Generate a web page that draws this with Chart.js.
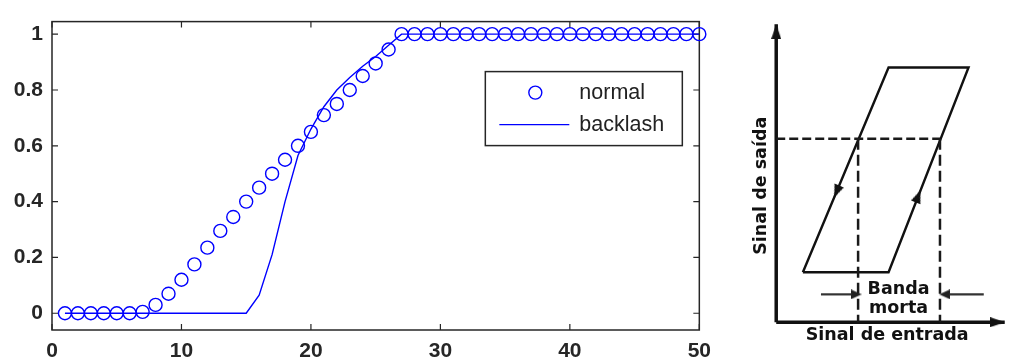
<!DOCTYPE html>
<html>
<head>
<meta charset="utf-8">
<script src="https://cdn.jsdelivr.net/npm/chart.js@4.4.0/dist/chart.umd.min.js"></script>
<style>
  html, body { margin: 0; padding: 0; background: #fff; }
  #wrap { position: relative; width: 1012px; height: 360px; }
  #left { position: absolute; left: 0; top: 0; width: 720px; height: 360px; }
  #right { position: absolute; left: 720px; top: 0; width: 292px; height: 360px; }
</style>
</head>
<body>
<div id="wrap">
  <div id="left"><canvas id="resp"></canvas></div>
  <div id="right"><canvas id="hyst"></canvas></div>
</div>
<script>
// ---- left plot: step response, normal vs backlash ----
const steps = [1, 2, 3, 4, 5, 6, 7, 8, 9, 10, 11, 12, 13, 14, 15, 16, 17, 18, 19, 20,
  21, 22, 23, 24, 25, 26, 27, 28, 29, 30, 31, 32, 33, 34, 35, 36, 37, 38, 39, 40,
  41, 42, 43, 44, 45, 46, 47, 48, 49, 50];
const normal = [0, 0, 0, 0, 0, 0, 0.005, 0.03, 0.07, 0.12, 0.175, 0.235, 0.295, 0.345, 0.4,
  0.45, 0.5, 0.55, 0.6, 0.65, 0.71, 0.75, 0.8, 0.85, 0.895, 0.945,
  1, 1, 1, 1, 1, 1, 1, 1, 1, 1, 1, 1, 1, 1, 1, 1, 1, 1, 1, 1, 1, 1, 1, 1];
const backlash = [0, 0, 0, 0, 0, 0, 0, 0, 0, 0, 0, 0, 0, 0, 0,
  0.065, 0.21, 0.4, 0.565, 0.66, 0.74, 0.8, 0.845, 0.885, 0.92, 0.96,
  1, 1, 1, 1, 1, 1, 1, 1, 1, 1, 1, 1, 1, 1, 1, 1, 1, 1, 1, 1, 1, 1, 1, 1];
const xTicks = [0, 10, 20, 30, 40, 50];
const yTicks = [0, 0.2, 0.4, 0.6, 0.8, 1];

// ---- right sketch: backlash / dead band (in sketch units) ----
const yAxisLine = [[0, 0], [0, 31.0]];
const xAxisLine = [[0, 0], [24.0, 0]];
const loop = [[2.8, 5.2], [11.8, 5.2], [20.2, 26.5], [11.8, 26.5], [2.8, 5.2]];
const levelGuide = [[0, 19.1], [17.2, 19.1]];
const leftGuide = [[8.6, 19.1], [8.6, 0]];
const rightGuide = [[17.2, 19.1], [17.2, 0]];
const bandLeft = [[4.7, 2.9], [7.9, 2.9]];
const bandRight = [[21.8, 2.9], [18.2, 2.9]];

const blue = '#0000ff';
const ink = '#262626';
const pts = arr => arr.map(p => ({ x: p[0], y: p[1] }));

const frame = {
  id: 'frame',
  beforeDatasetsDraw(chart) {
    const { ctx, chartArea: a, scales: { x, y } } = chart;
    ctx.save();
    ctx.strokeStyle = ink;
    ctx.lineWidth = 1.5;
    ctx.strokeRect(a.left, a.top, a.right - a.left, a.bottom - a.top);
    ctx.lineWidth = 1.2;
    ctx.beginPath();
    x.ticks.forEach(t => {
      const px = x.getPixelForValue(t.value);
      ctx.moveTo(px, a.bottom); ctx.lineTo(px, a.bottom - 6);
      ctx.moveTo(px, a.top); ctx.lineTo(px, a.top + 6);
    });
    y.ticks.forEach(t => {
      const py = y.getPixelForValue(t.value);
      ctx.moveTo(a.left, py); ctx.lineTo(a.left + 6, py);
      ctx.moveTo(a.right, py); ctx.lineTo(a.right - 6, py);
    });
    ctx.stroke();
    ctx.restore();
  }
};

const boxLegend = {
  id: 'boxLegend',
  afterDatasetsDraw(chart) {
    const { ctx, chartArea: a } = chart;
    const w = 197, h = 74;
    const left = a.right - 17 - w, top = a.top + 50;
    ctx.save();
    ctx.fillStyle = '#fff';
    ctx.fillRect(left, top, w, h);
    ctx.strokeStyle = ink;
    ctx.lineWidth = 1.5;
    ctx.strokeRect(left, top, w, h);
    const [dsN, dsB] = chart.data.datasets;
    // normal: circle marker
    ctx.strokeStyle = dsN.pointBorderColor;
    ctx.lineWidth = dsN.pointBorderWidth;
    ctx.beginPath();
    ctx.arc(left + 50, top + 21, dsN.pointRadius, 0, Math.PI * 2);
    ctx.stroke();
    // backlash: line
    ctx.strokeStyle = dsB.borderColor;
    ctx.lineWidth = dsB.borderWidth;
    ctx.beginPath();
    ctx.moveTo(left + 14, top + 53);
    ctx.lineTo(left + 84, top + 53);
    ctx.stroke();
    ctx.fillStyle = '#222';
    ctx.font = '21.5px "Liberation Sans", Arial, sans-serif';
    ctx.textBaseline = 'middle';
    ctx.fillText(dsN.label, left + 94, top + 21);
    ctx.fillText(dsB.label, left + 94, top + 53);
    ctx.restore();
  }
};

const tickFont = { family: '"Liberation Sans", Arial, sans-serif', size: 21, weight: 'bold' };

new Chart(document.getElementById('resp'), {
  type: 'line',
  data: {
    datasets: [
      {
        label: 'normal',
        data: steps.map((s, i) => ({ x: s, y: normal[i] })),
        showLine: false,
        pointStyle: 'circle',
        pointRadius: 6.5,
        pointBorderWidth: 1.4,
        pointBorderColor: blue,
        pointBackgroundColor: 'rgba(0,0,0,0)',
        clip: false
      },
      {
        label: 'backlash',
        data: steps.map((s, i) => ({ x: s, y: backlash[i] })),
        borderColor: blue,
        borderWidth: 1.4,
        pointRadius: 0,
        tension: 0
      }
    ]
  },
  options: {
    responsive: true,
    maintainAspectRatio: false,
    animation: false,
    layout: { padding: { top: 13, right: 19, left: 0, bottom: 0 } },
    plugins: { legend: { display: false }, tooltip: { enabled: false } },
    scales: {
      x: {
        type: 'linear', min: 0, max: 50,
        afterBuildTicks: s => { s.ticks = xTicks.map(v => ({ value: v })); },
        afterFit: s => { s.height = 30; },
        grid: { display: false, drawTicks: false },
        border: { display: false },
        ticks: { color: ink, font: tickFont, padding: 9, maxRotation: 0, callback: v => String(v) }
      },
      y: {
        type: 'linear', min: -0.06, max: 1.045,
        afterBuildTicks: s => { s.ticks = yTicks.map(v => ({ value: v })); },
        afterFit: s => { s.width = 52; },
        grid: { display: false, drawTicks: false },
        border: { display: false },
        ticks: { color: ink, font: tickFont, padding: 9, callback: v => String(v) }
      }
    }
  },
  plugins: [frame, boxLegend]
});

// ---- right sketch ----
function makeHead(w, h, color) {
  const c = document.createElement('canvas');
  c.width = w; c.height = h;
  const g = c.getContext('2d');
  g.fillStyle = color;
  g.beginPath();
  g.moveTo(w / 2, 0); g.lineTo(w, h); g.lineTo(0, h); g.closePath();
  g.fill();
  return c;
}
const axisHead = makeHead(10, 15, '#111');
const sideHead = makeHead(10, 13, '#111');
const bandHead = makeHead(10, 11, '#222');

const heading = (from, to) => Math.atan2(to[0] - from[0], to[1] - from[1]) * 180 / Math.PI;

const lineSet = (arr, color, width, dash) => ({
  data: pts(arr), showLine: true, borderColor: color, borderWidth: width,
  borderDash: dash || [], pointRadius: 0, tension: 0, clip: false
});

const headSet = (points, rotations, img) => ({
  data: pts(points), showLine: false, pointStyle: img,
  pointRotation: rotations, pointRadius: 6, clip: false
});

const sketchText = {
  id: 'sketchText',
  afterDatasetsDraw(chart) {
    const { ctx, scales: { x, y } } = chart;
    ctx.save();
    ctx.fillStyle = '#111';
    ctx.font = 'bold 17.5px "DejaVu Sans", Verdana, sans-serif';
    ctx.textAlign = 'center';
    ctx.textBaseline = 'alphabetic';
    ctx.fillText('Banda', x.getPixelForValue(12.85), y.getPixelForValue(2.97));
    ctx.fillText('morta', x.getPixelForValue(12.85), y.getPixelForValue(0.97));
    ctx.fillText('Sinal de entrada', x.getPixelForValue(11.65), y.getPixelForValue(-1.87));
    ctx.translate(x.getPixelForValue(-1.1), y.getPixelForValue(14.2));
    ctx.rotate(-Math.PI / 2);
    ctx.fillText('Sinal de saída', 0, 0);
    ctx.restore();
  }
};

new Chart(document.getElementById('hyst'), {
  type: 'scatter',
  data: {
    datasets: [
      lineSet(levelGuide, '#1a1a1a', 2.5, [9, 4]),
      lineSet(leftGuide, '#1a1a1a', 2.5, [11, 5]),
      lineSet(rightGuide, '#1a1a1a', 2.5, [11, 5]),
      lineSet(yAxisLine, '#111', 3.5),
      lineSet(xAxisLine, '#111', 3.5),
      lineSet(loop, '#111', 2.4),
      lineSet(bandLeft, '#333', 2.2),
      lineSet(bandRight, '#333', 2.2),
      headSet([[yAxisLine[1][0], yAxisLine[1][1] - 0.75], [xAxisLine[1][0] - 0.75, xAxisLine[1][1]]], [0, 90], axisHead),
      headSet([[6.35, 13.6], [14.9, 13.1]], [heading(loop[3], loop[4]), heading(loop[1], loop[2])], sideHead),
      headSet([[bandLeft[1][0] + 0.5, 2.9], [bandRight[1][0] - 0.5, 2.9]], [90, -90], bandHead)
    ]
  },
  options: {
    responsive: true,
    maintainAspectRatio: false,
    animation: false,
    layout: { padding: 0 },
    plugins: { legend: { display: false }, tooltip: { enabled: false } },
    scales: {
      x: { type: 'linear', display: false, min: -5.17, max: 24.03 },
      y: { type: 'linear', display: false, min: -3.2, max: 32.8 }
    }
  },
  plugins: [sketchText]
});
</script>
</body>
</html>
